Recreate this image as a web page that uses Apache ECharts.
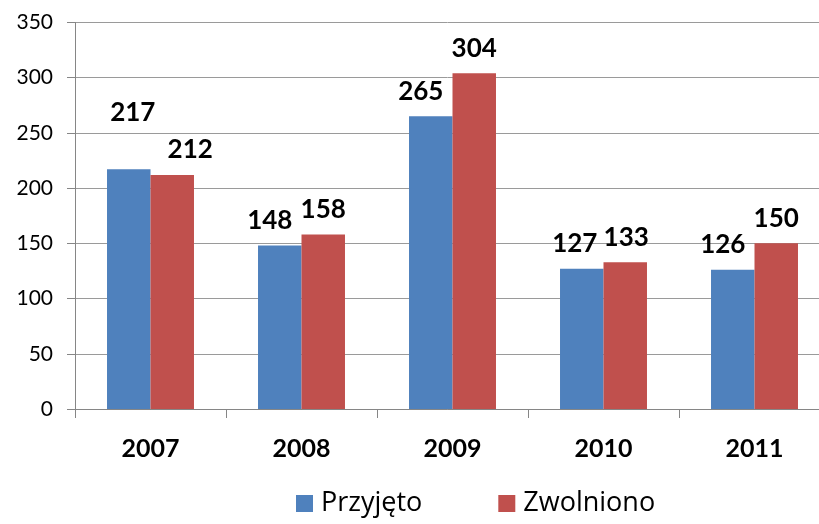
<!DOCTYPE html>
<html>
<head>
<meta charset="utf-8">
<script src="https://cdn.jsdelivr.net/npm/echarts@6/dist/echarts.min.js"></script>
<style>
  html, body { margin: 0; padding: 0; background: #fff; }
  #chart { width: 819px; height: 524px; }
</style>
</head>
<body>
<div id="chart"></div>
<script>
const years = ['2007', '2008', '2009', '2010', '2011']
const przyjeto = [217, 148, 265, 127, 126]
const zwolniono = [212, 158, 304, 133, 150]
const yTicks = [0, 50, 100, 150, 200, 250, 300, 350]

const FONT = 'Lato'

// label nudges, like the spreadsheet placed them
const blueOffsets = [[4, -32], [-10, 0], [-10, 0], [-7, 0], [-10, 0]]
const redOffsets = [[18, 0], [0, 0], [0, 0], [1, 0], [0, 0]]

const chart = echarts.init(document.getElementById('chart'))

function withLabels(values, offsets) {
  return values.map((v, i) => ({
    value: v,
    label: { offset: offsets[i] }
  }))
}

const labelStyle = {
  show: true,
  position: 'top',
  distance: 12,
  fontFamily: FONT,
  fontWeight: 'bold',
  fontSize: 26,
  color: '#000'
}

chart.setOption({
  animation: false,
  // plot runs past the right edge of the picture, as in the original crop
  grid: { left: 75, width: 755, top: 22.5, bottom: 115, outerBoundsMode: 'none' },
  legend: {
    bottom: 2,
    left: 291,
    itemWidth: 17,
    itemHeight: 17,
    itemGap: 76,
    icon: 'rect',
    textStyle: { fontFamily: 'Open Sans', fontSize: 27, color: '#000', padding: [0, 0, 0, 3] },
    data: ['Przyjęto', 'Zwolniono']
  },
  xAxis: {
    type: 'category',
    data: years,
    axisLine: { lineStyle: { color: '#868686', width: 1 } },
    axisTick: { show: true, length: 9, lineStyle: { color: '#868686' } },
    axisLabel: { margin: 27, fontFamily: FONT, fontWeight: 'bold', fontSize: 25, color: '#000' }
  },
  yAxis: {
    type: 'value',
    min: yTicks[0],
    max: yTicks[yTicks.length - 1],
    interval: 50,
    axisLine: { show: true, lineStyle: { color: '#868686', width: 1 } },
    axisTick: { show: true, length: 8, lineStyle: { color: '#868686' } },
    axisLabel: { margin: 22, fontFamily: FONT, fontSize: 21, color: '#000' },
    splitLine: { lineStyle: { color: '#9a9a9a', width: 1 } }
  },
  series: [
    {
      name: 'Przyjęto',
      type: 'bar',
      barWidth: '28.8%',
      barGap: '0%',
      itemStyle: { color: '#4F81BD' },
      label: labelStyle,
      data: withLabels(przyjeto, blueOffsets)
    },
    {
      name: 'Zwolniono',
      type: 'bar',
      barWidth: '28.8%',
      itemStyle: { color: '#C0504D' },
      label: labelStyle,
      data: withLabels(zwolniono, redOffsets)
    }
  ]
})
</script>
</body>
</html>
